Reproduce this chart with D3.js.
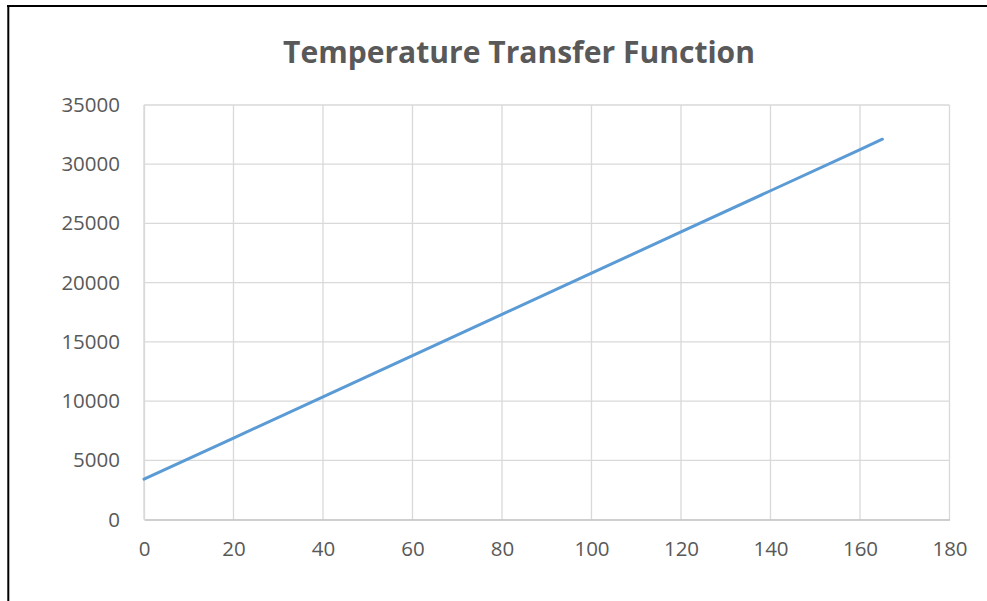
<!DOCTYPE html>
<html>
<head>
<meta charset="utf-8">
<script src="https://cdn.jsdelivr.net/npm/d3@7"></script>
<style>
  html, body { margin: 0; padding: 0; background: #fff; }
  svg { display: block; }
</style>
</head>
<body>
<div id="viz"></div>
<script>
// values
var temps = [0, 20, 40, 60, 80, 100, 120, 140, 160, 165];
var counts = [3400, 6880, 10360, 13840, 17320, 20800, 24280, 27760, 31240, 32110];
var xTicks = [0, 20, 40, 60, 80, 100, 120, 140, 160, 180];
var yTicks = [0, 5000, 10000, 15000, 20000, 25000, 30000, 35000];
var title = "Temperature Transfer Function";

var width = 987, height = 601;
var plot = {left: 144, right: 949.5, top: 105, bottom: 519.5};
var font = "'Open Sans', 'Noto Sans', sans-serif";

var svg = d3.select("#viz").append("svg")
    .attr("width", width)
    .attr("height", height);

// frame: only top and left edges show in the picture
svg.append("line").attr("x1", 7).attr("x2", width).attr("y1", 6).attr("y2", 6)
    .attr("stroke", "#000").attr("stroke-width", 2);
svg.append("line").attr("x1", 8.3).attr("x2", 8.3).attr("y1", 5).attr("y2", height)
    .attr("stroke", "#000").attr("stroke-width", 2);

var x = d3.scaleLinear().domain([0, 180]).range([plot.left, plot.right]);
var y = d3.scaleLinear().domain([0, 35000]).range([plot.bottom, plot.top]);

// grid
svg.append("g").selectAll("line")
    .data(yTicks.slice(1))
    .enter().append("line")
    .attr("x1", plot.left).attr("x2", plot.right)
    .attr("y1", function(d) { return y(d); })
    .attr("y2", function(d) { return y(d); })
    .attr("stroke", "#d9d9d9").attr("stroke-width", 1.3);
svg.append("g").selectAll("line")
    .data(xTicks)
    .enter().append("line")
    .attr("y1", plot.top).attr("y2", plot.bottom)
    .attr("x1", function(d) { return x(d); })
    .attr("x2", function(d) { return x(d); })
    .attr("stroke", "#d9d9d9").attr("stroke-width", 1.3);

// axes
var xAxis = svg.append("g")
    .attr("transform", "translate(0," + plot.bottom + ")")
    .call(d3.axisBottom(x).tickValues(xTicks).tickSize(0).tickPadding(22));
var yAxis = svg.append("g")
    .attr("transform", "translate(" + plot.left + ",0)")
    .call(d3.axisLeft(y).tickValues(yTicks).tickSize(0).tickPadding(24)
          .tickFormat(d3.format("d")));

xAxis.select(".domain").attr("stroke", "#bfbfbf").attr("stroke-width", 1.5);
yAxis.select(".domain").attr("stroke", "#d9d9d9").attr("stroke-width", 1.3);
svg.selectAll(".tick text")
    .attr("fill", "#595959")
    .style("font-family", font)
    .style("font-size", "20.5px");

// the series
var line = d3.line()
    .x(function(d, i) { return x(temps[i]); })
    .y(function(d) { return y(d); });
svg.append("path")
    .datum(counts)
    .attr("d", line)
    .attr("fill", "none")
    .attr("stroke", "#5b9bd5")
    .attr("stroke-width", 3)
    .attr("stroke-linecap", "round");

// title, sized to the width it takes in the reference
var t = svg.append("text")
    .attr("x", 519).attr("y", 62.5)
    .attr("text-anchor", "middle")
    .attr("fill", "#595959")
    .style("font-family", font)
    .style("font-weight", "bold")
    .style("font-size", "34px")
    .text(title);
var w = t.node().getComputedTextLength();
if (w > 0) t.style("font-size", (34 * 472 / w) + "px");
</script>
</body>
</html>
